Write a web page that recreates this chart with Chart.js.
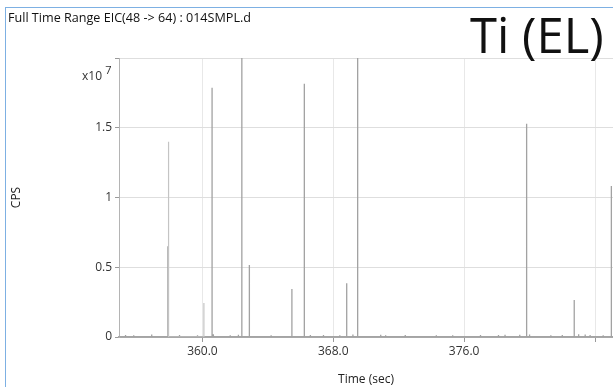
<!DOCTYPE html>
<html>
<head>
<meta charset="utf-8">
<script src="https://cdn.jsdelivr.net/npm/chart.js@4/dist/chart.umd.min.js"></script>
<style>
  html, body { margin: 0; padding: 0; background: #fff; }
  #wrap { position: relative; width: 613px; height: 387px; overflow: hidden; font-family: "Open Sans", "Noto Sans", sans-serif; }
  #frame { position: absolute; left: 5px; top: 7px; right: -2px; bottom: -2px; border-left: 1px solid #7db0e3; border-top: 1px solid #7db0e3; }
  #title { position: absolute; left: 8px; top: 9px; font-size: 12.6px; color: #111; white-space: nowrap; }
  #element { position: absolute; left: 470px; top: 4px; font-size: 49px; line-height: 60px; color: #111; white-space: nowrap; }
  #scale { position: absolute; left: 82px; top: 63px; font-size: 12px; color: #333; white-space: nowrap; }
  #scale sup { font-size: 11px; position: relative; top: -1px; }
  canvas { position: absolute; left: 0; top: 0; }
</style>
</head>
<body>
<div id="wrap">
  <canvas id="c" width="613" height="387"></canvas>
  <div id="frame"></div>
  <div id="title">Full Time Range EIC(48 -&gt; 64) : 014SMPL.d</div>
  <div id="element">Ti (EL)</div>
  <div id="scale">x10 <sup>7</sup></div>
</div>
<script>
// Acquisition window (sec)
const timeStart = 354.9;
const timeEnd = 385.1;

// Labelled time ticks and count ticks
const timeTicks = [360, 368, 376, 384];
const timeLabels = ['360.0', '368.0', '376.0', ''];
const cpsTicks = [0, 0.5e7, 1e7, 1.5e7, 2e7];
const cpsLabels = ['0', '0.5', '1', '1.5', ''];

// Transient Ti signal peaks (time in sec, CPS)
const peakTimes  = [357.89, 360.59, 362.41, 362.87, 365.47, 366.23, 368.82, 369.49, 379.82, 382.73, 385.0];
const peakCounts = [0.65e7, 1.786e7, 2.4e7, 0.516e7, 0.344e7, 1.815e7, 0.385e7, 2.4e7, 1.528e7, 0.265e7, 1.083e7];

// Fainter peaks
const faintTimes  = [357.93, 360.09];
const faintCounts = [1.40e7, 0.244e7];

// Low-level background counts
const noiseTimes  = [355.3, 355.8, 356.9, 358.6, 359.7, 360.67, 361.7, 362.2, 364.2, 366.6, 367.4, 368.4, 369.2, 370.9, 371.2, 372.4, 374.3, 375.3, 377.0, 378.1, 378.5, 379.4, 380.0, 381.3, 382.0, 383.0, 383.4, 383.7, 384.5];
const noiseCounts = [0.015e7, 0.012e7, 0.018e7, 0.014e7, 0.012e7, 0.02e7, 0.012e7, 0.016e7, 0.013e7, 0.015e7, 0.014e7, 0.012e7, 0.018e7, 0.016e7, 0.012e7, 0.014e7, 0.012e7, 0.013e7, 0.015e7, 0.014e7, 0.017e7, 0.016e7, 0.018e7, 0.012e7, 0.014e7, 0.02e7, 0.018e7, 0.015e7, 0.012e7];

// Turn (time, counts) pairs into vertical sticks rising from the baseline
function sticks(times, counts, withEnds) {
  const pts = times.map((t, i) => ({ t, v: counts[i] })).sort((a, b) => a.t - b.t);
  const out = [];
  if (withEnds) out.push({ x: timeStart, y: 0 });
  pts.forEach(p => { out.push({ x: p.t, y: 0 }, { x: p.t, y: p.v }, { x: p.t, y: 0 }); });
  if (withEnds) out.push({ x: timeEnd, y: 0 });
  return out;
}

const baseline = sticks(
  peakTimes.concat(noiseTimes),
  peakCounts.concat(noiseCounts),
  true
);

const font = { family: '"Open Sans", "Noto Sans", sans-serif', size: 12 };

new Chart(document.getElementById('c'), {
  type: 'line',
  data: {
    datasets: [
      {
        data: sticks(faintTimes, faintCounts, false),
        borderColor: '#c4c4c4',
        borderWidth: 1.2,
        pointRadius: 0,
        tension: 0
      },
      {
        data: baseline,
        borderColor: '#a2a2a2',
        borderWidth: 1.3,
        pointRadius: 0,
        tension: 0
      }
    ]
  },
  options: {
    responsive: false,
    animation: false,
    events: [],
    layout: { padding: { top: 58, right: 0, left: 0, bottom: 0 } },
    plugins: { legend: { display: false }, tooltip: { enabled: false }, title: { display: false } },
    scales: {
      x: {
        type: 'linear',
        min: timeStart,
        max: timeEnd,
        afterBuildTicks: s => { s.ticks = timeTicks.map(v => ({ value: v })); },
        afterFit: s => { s.height = 50; },
        ticks: {
          autoSkip: false,
          maxRotation: 0,
          padding: 2,
          color: '#333',
          font,
          callback: v => timeLabels[timeTicks.indexOf(v)] ?? ''
        },
        grid: { color: '#e8e8e8', lineWidth: 1, tickLength: 5, tickColor: '#9a9a9a', drawTicks: true },
        border: { color: '#a8a8a8', width: 2 },
        title: { display: true, text: 'Time (sec)', color: '#222', font, padding: { top: 7, bottom: 0 } }
      },
      y: {
        min: 0,
        max: 2e7,
        afterBuildTicks: s => { s.ticks = cpsTicks.map(v => ({ value: v })); },
        afterFit: s => { s.width = 119; },
        ticks: {
          padding: 3,
          color: '#333',
          font,
          callback: v => cpsLabels[cpsTicks.indexOf(v)] ?? ''
        },
        grid: { color: '#dedede', lineWidth: 1, tickLength: 4, tickColor: '#9a9a9a' },
        border: { color: '#b4b4b4', width: 1 },
        title: { display: true, text: 'CPS', color: '#222', font, padding: { top: 9, bottom: 0 } }
      }
    }
  }
});
</script>
</body>
</html>
